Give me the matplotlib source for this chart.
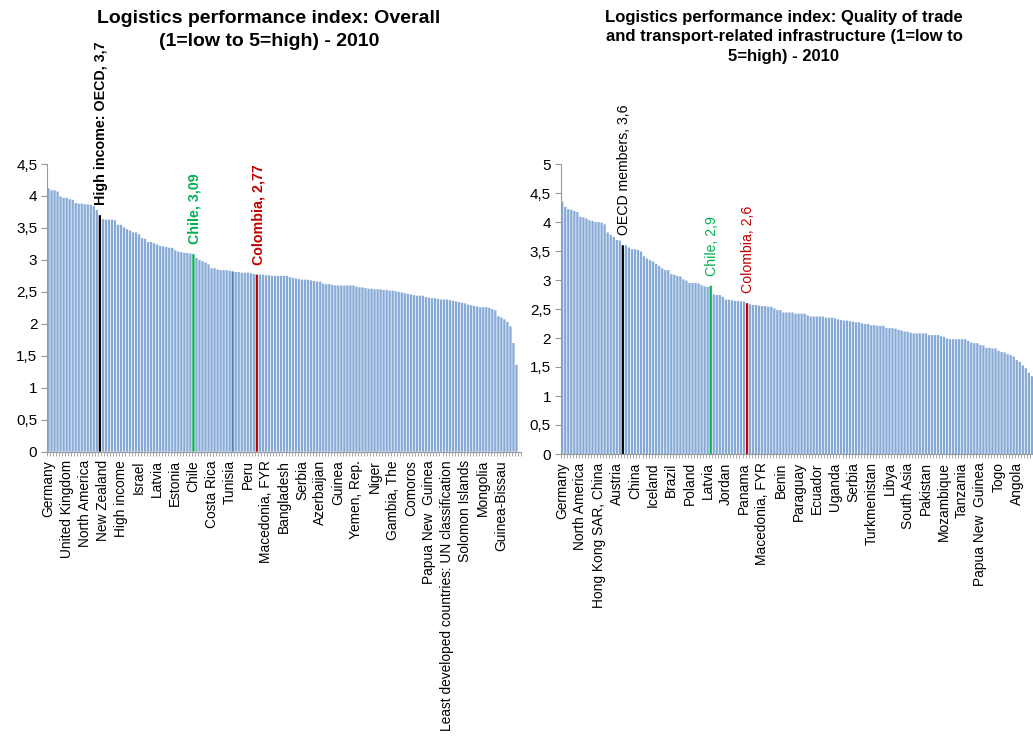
import matplotlib
matplotlib.use("Agg")
import matplotlib.pyplot as plt
from matplotlib.ticker import FuncFormatter, FixedLocator
import numpy as np

plt.rcParams['font.family'] = ['Liberation Sans', 'DejaVu Sans']

# LPI 2010, overall score, sorted high -> low
overall = [
    4.12, 4.09, 4.09, 4.07, 3.99, 3.97, 3.97, 3.95, 3.94, 3.89,
    3.88, 3.88, 3.87, 3.87, 3.86, 3.84, 3.78, 3.70, 3.64, 3.63,
    3.63, 3.63, 3.62, 3.55, 3.55, 3.51, 3.48, 3.46, 3.43, 3.43,
    3.40, 3.34, 3.33, 3.28, 3.28, 3.26, 3.24, 3.22, 3.21, 3.20,
    3.19, 3.19, 3.15, 3.13, 3.12, 3.11, 3.11, 3.10, 3.09, 3.03,
    3.00, 2.98, 2.96, 2.93, 2.87, 2.87, 2.85, 2.84, 2.84, 2.84,
    2.83, 2.82, 2.81, 2.81, 2.80, 2.80, 2.80, 2.79, 2.78, 2.77,
    2.77, 2.77, 2.76, 2.76, 2.75, 2.75, 2.75, 2.75, 2.75, 2.75,
    2.73, 2.72, 2.71, 2.70, 2.69, 2.69, 2.69, 2.68, 2.67, 2.66,
    2.66, 2.63, 2.62, 2.62, 2.61, 2.60, 2.60, 2.60, 2.60, 2.60,
    2.60, 2.60, 2.58, 2.57, 2.57, 2.56, 2.55, 2.55, 2.54, 2.54,
    2.54, 2.53, 2.53, 2.52, 2.52, 2.51, 2.50, 2.49, 2.48, 2.47,
    2.46, 2.45, 2.44, 2.44, 2.44, 2.42, 2.41, 2.40, 2.40, 2.39,
    2.38, 2.38, 2.38, 2.37, 2.36, 2.35, 2.34, 2.33, 2.32, 2.30,
    2.29, 2.28, 2.27, 2.26, 2.26, 2.26, 2.25, 2.23, 2.21, 2.12,
    2.10, 2.07, 2.03, 1.96, 1.70, 1.36,
]
overall_labels = [
    "Germany", "United Kingdom", "North America", "New Zealand", "High income",
    "Israel", "Latvia", "Estonia", "Chile", "Costa Rica", "Tunisia", "Peru",
    "Macedonia, FYR", "Bangladesh", "Serbia", "Azerbaijan", "Guinea",
    "Yemen, Rep.", "Niger", "Gambia, The", "Comoros", "Papua New  Guinea",
    "Least developed countries: UN classification", "Solomon Islands",
    "Mongolia", "Guinea-Bissau",
]
overall_marks = [(17, "High income: OECD, 3,7", 3.70, "black"),
                 (48, "Chile, 3,09", 3.09, "#00B050"),
                 (69, "Colombia, 2,77", 2.77, "#C00000")]
overall_other = 61  # aggregate drawn in a darker blue

# LPI 2010, quality of trade and transport infrastructure
infra = [
    4.35, 4.26, 4.22, 4.21, 4.19, 4.17, 4.09, 4.08, 4.06, 4.03,
    4.02, 4.00, 4.00, 3.99, 3.96, 3.82, 3.78, 3.74, 3.69, 3.68,
    3.60, 3.60, 3.56, 3.53, 3.53, 3.52, 3.49, 3.41, 3.37, 3.34,
    3.32, 3.28, 3.24, 3.20, 3.17, 3.17, 3.10, 3.09, 3.07, 3.06,
    3.01, 2.99, 2.95, 2.95, 2.95, 2.94, 2.91, 2.89, 2.88, 2.90,
    2.75, 2.74, 2.74, 2.71, 2.66, 2.66, 2.65, 2.64, 2.64, 2.63,
    2.63, 2.60, 2.58, 2.57, 2.57, 2.56, 2.55, 2.55, 2.54, 2.54,
    2.51, 2.48, 2.48, 2.44, 2.44, 2.44, 2.44, 2.42, 2.42, 2.42,
    2.42, 2.39, 2.37, 2.37, 2.37, 2.37, 2.37, 2.35, 2.35, 2.35,
    2.34, 2.32, 2.31, 2.30, 2.30, 2.29, 2.28, 2.27, 2.27, 2.25,
    2.24, 2.24, 2.22, 2.22, 2.21, 2.21, 2.21, 2.17, 2.17, 2.17,
    2.16, 2.14, 2.13, 2.11, 2.11, 2.09, 2.08, 2.08, 2.08, 2.08,
    2.08, 2.05, 2.05, 2.05, 2.05, 2.03, 2.02, 1.99, 1.98, 1.98,
    1.98, 1.98, 1.98, 1.98, 1.95, 1.92, 1.91, 1.91, 1.88, 1.87,
    1.83, 1.83, 1.82, 1.82, 1.78, 1.76, 1.75, 1.72, 1.71, 1.68,
    1.62, 1.59, 1.53, 1.48, 1.40, 1.34,
]
infra_labels = [
    "Germany", "North America", "Hong Kong SAR, China", "Austria", "China",
    "Iceland", "Brazil", "Poland", "Latvia", "Jordan", "Panama",
    "Macedonia, FYR", "Benin", "Paraguay", "Ecuador", "Uganda", "Serbia",
    "Turkmenistan", "Libya", "South Asia", "Pakistan", "Mozambique",
    "Tanzania", "Papua New  Guinea", "Togo", "Angola",
]
infra_marks = [(20, "OECD members, 3,6", 3.6, "black"),
               (49, "Chile, 2,9", 2.9, "#00B050"),
               (61, "Colombia, 2,6", 2.6, "#C00000")]

BAR = "#4F81BD"
comma = FuncFormatter(lambda v, p: ("%g" % v).replace(".", ","))


def panel(ax, vals, labels, marks, ymax, nslots, bold, other=None):
    vals = list(vals)
    for i, _, v, _ in marks:
        vals[i] = v
    x = np.arange(len(vals))
    cols = ["#86A9D6"] * len(vals)
    for i, _, _, c in marks:
        cols[i] = c
    if other is not None:
        cols[other] = BAR
    ax.bar(x, vals, width=0.75, color=cols, linewidth=0, snap=False)
    for i, txt, v, c in marks:
        ax.annotate(txt, (i, v), xytext=(1, 7), textcoords="offset points",
                    rotation=90, ha="center", va="bottom", color=c,
                    fontsize=10.3 if bold else 10.2,
                    fontweight="bold" if bold else "normal")
    ax.set_xlim(-0.5, nslots - 0.5)
    ax.set_ylim(0, ymax)
    ax.set_yticks(np.arange(0, ymax + 0.01, 0.5))
    ax.yaxis.set_major_formatter(comma)
    ax.set_xticks(np.arange(0, 6 * len(labels), 6))
    ax.set_xticklabels(labels, rotation=90, fontsize=9.9)
    ax.xaxis.set_minor_locator(FixedLocator(np.arange(nslots + 1) - 0.5))
    ax.tick_params(axis="x", which="major", length=0, pad=6)
    ax.tick_params(axis="x", which="minor", length=3, color="#9a9a9a", width=0.6)
    ax.tick_params(axis="y", length=4, color="#9a9a9a", labelsize=11, pad=3)
    for s in ("top", "right"):
        ax.spines[s].set_visible(False)
    for s in ("left", "bottom"):
        ax.spines[s].set_color("#9a9a9a")
        ax.spines[s].set_linewidth(0.8)


fig = plt.figure(figsize=(10.33, 7.42), dpi=100)
ax1 = fig.add_axes([47 / 1033, 1 - 451.7 / 742, 474 / 1033, 287.7 / 742])
ax2 = fig.add_axes([560.7 / 1033, 1 - 454 / 742, 472.7 / 1033, 290 / 742])

panel(ax1, overall, overall_labels, overall_marks, 4.5, 157, True, overall_other)
panel(ax2, infra, infra_labels, infra_marks, 5, 156, False)

fig.text(269 / 1033, 1 - 30 / 742,
         "Logistics performance index: Overall\n(1=low to 5=high) - 2010",
         ha="center", va="center", fontsize=14, fontweight="bold",
         linespacing=1.45)
fig.text(784 / 1033, 1 - 37 / 742,
         "Logistics performance index: Quality of trade\n"
         "and transport-related infrastructure (1=low to\n5=high) - 2010",
         ha="center", va="center", fontsize=12, fontweight="bold",
         linespacing=1.38)

fig.savefig("out.png", dpi=100)
